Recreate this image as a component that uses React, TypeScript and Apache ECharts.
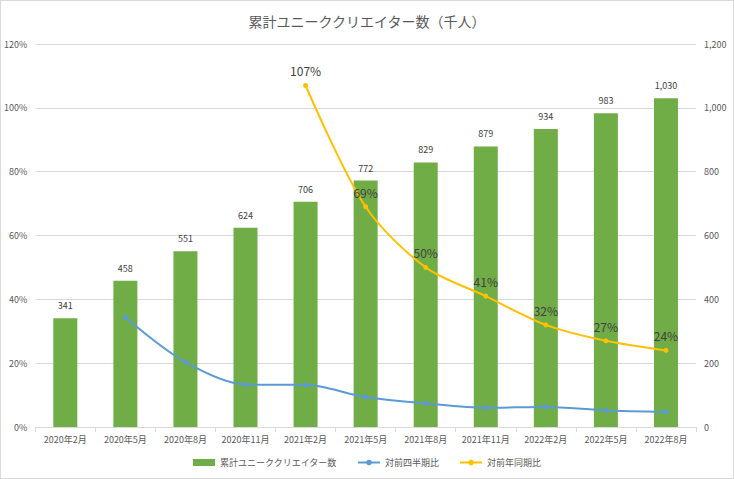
import * as echarts from 'echarts';
import { useEffect, useRef } from 'react';

const CATEGORIES = [
  '2020年2月', '2020年5月', '2020年8月', '2020年11月', '2021年2月', '2021年5月',
  '2021年8月', '2021年11月', '2022年2月', '2022年5月', '2022年8月',
];

// 累計ユニーククリエイター数（千人）
const CREATORS = [341, 458, 551, 624, 706, 772, 829, 879, 934, 983, 1030];

// 対前四半期比 (ratio)
const QOQ = [null, 0.343, 0.203, 0.133, 0.132, 0.094, 0.074, 0.06, 0.063, 0.052, 0.048];

// 対前年同期比 (ratio)
const YOY = [null, null, null, null, 1.07, 0.69, 0.5, 0.41, 0.32, 0.27, 0.24];

const FONT = '"Noto Sans CJK JP", "Noto Sans", sans-serif';

export default function App() {
  const chartRef = useRef<HTMLDivElement>(null);

  useEffect(() => {
    if (!chartRef.current) return;
    const chart = echarts.init(chartRef.current, undefined, { renderer: 'svg' });

    chart.setOption({
      animation: false,
      backgroundColor: '#fff',
      textStyle: { fontFamily: FONT },
      title: {
        text: '累計ユニーククリエイター数（千人）',
        left: 'center',
        top: 8,
        textStyle: { fontSize: 14, fontWeight: 'normal', color: '#595959', fontFamily: FONT },
      },
      legend: {
        bottom: 6,
        left: 'center',
        itemGap: 20,
        itemWidth: 22,
        itemHeight: 7,
        textStyle: { fontSize: 9, color: '#595959', fontFamily: FONT },
        data: [
          { name: '累計ユニーククリエイター数', icon: 'rect' },
          { name: '対前四半期比' },
          { name: '対前年同期比' },
        ],
      },
      grid: { left: 34, right: 37, top: 43, bottom: 51 },
      xAxis: {
        type: 'category',
        data: CATEGORIES,
        axisLine: { lineStyle: { color: '#d9d9d9' } },
        axisTick: { show: true, lineStyle: { color: '#d9d9d9' } },
        axisLabel: { interval: 0, fontSize: 9, color: '#595959', margin: 8 },
      },
      yAxis: [
        {
          type: 'value',
          min: 0,
          max: 1.2,
          interval: 0.2,
          axisLine: { show: false },
          axisTick: { show: false },
          axisLabel: {
            fontSize: 9,
            color: '#595959',
            formatter: (v: number) => `${Math.round(v * 100)}%`,
          },
          splitLine: { lineStyle: { color: '#d9d9d9' } },
        },
        {
          type: 'value',
          min: 0,
          max: 1200,
          interval: 200,
          axisLine: { show: false },
          axisTick: { show: false },
          axisLabel: {
            fontSize: 9,
            color: '#595959',
            formatter: (v: number) => v.toLocaleString('en-US'),
          },
          splitLine: { show: false },
        },
      ],
      series: [
        {
          name: '累計ユニーククリエイター数',
          type: 'bar',
          yAxisIndex: 1,
          barWidth: 24,
          itemStyle: { color: '#70ad47' },
          label: {
            show: true,
            position: 'top',
            distance: 8,
            fontSize: 9,
            color: '#404040',
            formatter: (p: any) => Number(p.value).toLocaleString('en-US'),
          },
          data: CREATORS,
          z: 1,
        },
        {
          name: '対前四半期比',
          type: 'line',
          yAxisIndex: 0,
          smooth: 0.3,
          symbol: 'circle',
          symbolSize: 5,
          lineStyle: { color: '#5b9bd5', width: 2 },
          itemStyle: { color: '#5b9bd5' },
          data: QOQ,
          z: 3,
        },
        {
          name: '対前年同期比',
          type: 'line',
          yAxisIndex: 0,
          smooth: 0.3,
          symbol: 'circle',
          symbolSize: 5,
          lineStyle: { color: '#ffc000', width: 2 },
          itemStyle: { color: '#ffc000' },
          label: {
            show: true,
            position: 'top',
            distance: 6,
            fontSize: 12,
            color: '#404040',
            formatter: (p: any) => `${Math.round(p.value * 100)}%`,
          },
          data: YOY,
          z: 4,
        },
      ],
    });

    return () => chart.dispose();
  }, []);

  return (
    <div
      ref={chartRef}
      style={{
        position: 'absolute',
        left: 0,
        top: 0,
        width: 734,
        height: 479,
        boxSizing: 'border-box',
        border: '1px solid #d9d9d9',
      }}
    />
  );
}
